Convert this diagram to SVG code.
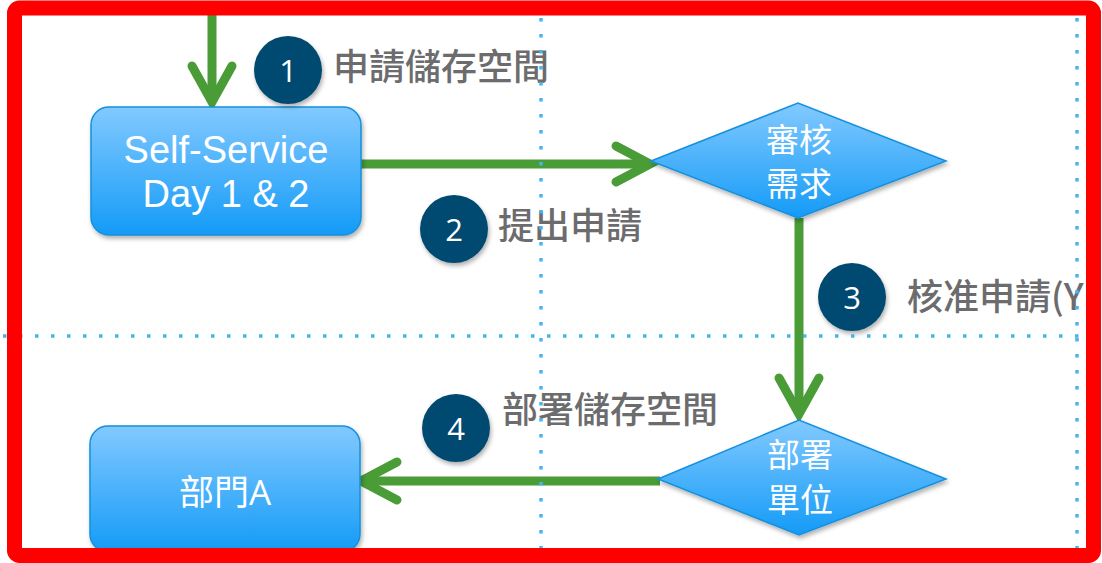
<svg xmlns="http://www.w3.org/2000/svg" width="1102" height="563" viewBox="0 0 1102 563">
  <style>
    .node-shape { fill: url(#blueGrad); stroke: #1690dc; stroke-width: 1.5; filter: url(#shadow); }
    .node-text { fill: #ffffff; font-family: "Open Sans", "Noto Sans CJK TC", sans-serif; text-anchor: middle; }
    .node-latin { fill: #ffffff; font-family: "Liberation Sans", "Open Sans", sans-serif; font-size: 38px; text-anchor: middle; }
    .badge { fill: #004a70; filter: url(#shadow); }
    .badge-text { fill: #ffffff; font-family: "Open Sans", sans-serif; font-size: 31px; text-anchor: middle; }
    .label { fill: #6c6c6e; font-family: "Noto Sans CJK TC", "Open Sans", sans-serif; font-size: 36px; font-weight: 500; }
    .conn { fill: none; stroke: #4a9c37; stroke-width: 9; }
    .head { fill: none; stroke: #4a9c37; stroke-width: 9; stroke-linecap: round; stroke-linejoin: miter; }
    .grid { fill: none; stroke: #45b4f0; stroke-width: 3.5; stroke-dasharray: 3.5 12.5; }
  </style>
  <defs>
    <linearGradient id="blueGrad" x1="0" y1="0" x2="0" y2="1">
      <stop offset="0" stop-color="#82c9ff"/>
      <stop offset="1" stop-color="#149bf7"/>
    </linearGradient>
    <filter id="shadow" x="-20%" y="-20%" width="140%" height="150%">
      <feDropShadow dx="1.5" dy="3" stdDeviation="2.2" flood-color="#000000" flood-opacity="0.3"/>
    </filter>
  </defs>

  <rect x="0" y="0" width="1102" height="563" fill="#ffffff"/>

  <g id="connectors">
    <path class="conn" d="M212 10 V100"/>
    <path class="head" d="M192 66 L212 102 L232 66"/>
    <path class="conn" d="M361 164 H645"/>
    <path class="head" d="M616 146 L650 164 L616 182"/>
    <path class="conn" d="M799 218 V412"/>
    <path class="head" d="M779 378 L799 414 L819 378"/>
    <path class="conn" d="M660 481 H366"/>
    <path class="head" d="M397 462 L361 481 L397 500"/>
  </g>

  <g id="node-selfservice">
    <rect class="node-shape" x="91" y="107" width="270" height="128" rx="18"/>
    <text class="node-latin" x="226" y="163">Self-Service</text>
    <text class="node-latin" x="226" y="207">Day 1 &amp; 2</text>
  </g>

  <g id="node-review">
    <polygon class="node-shape" points="651,161 798,103 946,161 798,218"/>
    <text class="node-text" x="799" y="152" font-size="33">審核</text>
    <text class="node-text" x="799" y="196" font-size="33">需求</text>
  </g>

  <g id="node-deploy">
    <polygon class="node-shape" points="658,479 799,420 946,479 799,535"/>
    <text class="node-text" x="800" y="467" font-size="33">部署</text>
    <text class="node-text" x="800" y="512" font-size="33">單位</text>
  </g>

  <g id="node-dept">
    <rect class="node-shape" x="90" y="426" width="270" height="126" rx="18"/>
    <text class="node-text" x="225" y="505" font-size="35">部門A</text>
  </g>

  <g id="step-1">
    <circle class="badge" cx="288" cy="70" r="34"/>
    <text class="badge-text" x="288" y="82">1</text>
    <text class="label" x="333" y="80">申請儲存空間</text>
  </g>
  <g id="step-2">
    <circle class="badge" cx="454" cy="229" r="34"/>
    <text class="badge-text" x="454" y="241">2</text>
    <text class="label" x="498" y="239">提出申請</text>
  </g>
  <g id="step-3">
    <circle class="badge" cx="852" cy="297" r="34"/>
    <text class="badge-text" x="852" y="309">3</text>
    <text class="label" x="907" y="310">核准申請(Y</text>
  </g>
  <g id="step-4">
    <circle class="badge" cx="456" cy="428" r="34"/>
    <text class="badge-text" x="456" y="440">4</text>
    <text class="label" x="502" y="423">部署儲存空間</text>
  </g>

  <g id="grid">
    <path class="grid" d="M541 18 V548"/>
    <path class="grid" d="M1077 18 V548"/>
    <path class="grid" d="M3 336 H1086"/>
  </g>

  <rect x="14.5" y="8" width="1079" height="547.5" rx="5" fill="none" stroke="#ff0000" stroke-width="15"/>
</svg>
